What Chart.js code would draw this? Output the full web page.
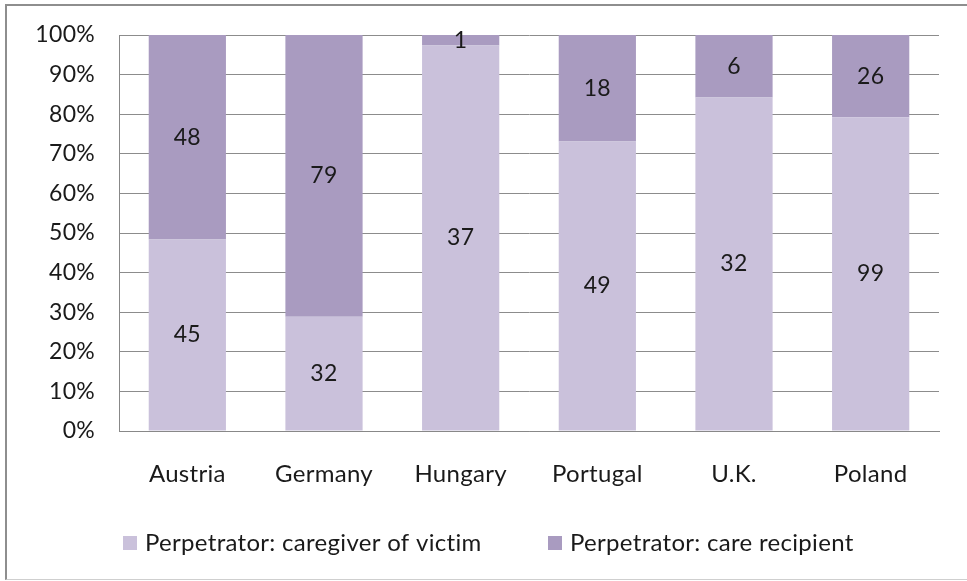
<!DOCTYPE html>
<html>
<head>
<meta charset="utf-8">
<script src="https://cdn.jsdelivr.net/npm/chart.js@4.4.1/dist/chart.umd.min.js"></script>
<style>
  html, body { margin: 0; padding: 0; background: #fff; overflow: hidden; }
  #wrap { position: relative; width: 967px; height: 581px; }
  #frame {
    position: absolute; left: 5px; top: 4px; right: -10px; bottom: 1px;
    border-left: 2px solid #8e8e8e; border-top: 2px solid #8e8e8e;
    border-bottom: 1px solid #cfcfcf; pointer-events: none;
  }
  canvas { position: absolute; left: 0; top: 0; }
</style>
</head>
<body>
<div id="wrap">
  <canvas id="chart" width="967" height="581"></canvas>
  <div id="frame"></div>
</div>
<script>
// Données (nombres de cas par pays)
const countries = ['Austria', 'Germany', 'Hungary', 'Portugal', 'U.K.', 'Poland'];
const caregiverCounts = [45, 32, 37, 49, 32, 99];
const recipientCounts = [48, 79, 1, 18, 6, 26];
const seriesNames = ['Perpetrator: caregiver of victim', 'Perpetrator: care recipient'];
const yTicks = [0, 10, 20, 30, 40, 50, 60, 70, 80, 90, 100];

const colors = ['#cac1db', '#a99bc0'];
const fontFamily = 'Lato, "Open Sans", sans-serif';
const textColor = '#1a1a1a';
const spacing = '0.3px';

// Parts en pourcentage (100% empilé)
const totals = caregiverCounts.map((v, i) => v + recipientCounts[i]);
const caregiverPct = caregiverCounts.map((v, i) => v / totals[i] * 100);
const recipientPct = recipientCounts.map((v, i) => v / totals[i] * 100);

// Léger espacement des lettres
const letterSpacing = {
    id: 'letterSpacing',
    beforeInit(chart) { chart.ctx.letterSpacing = spacing; },
    beforeLayout(chart) { chart.ctx.letterSpacing = spacing; },
    beforeDraw(chart) { chart.ctx.letterSpacing = spacing; }
};

// Étiquettes de valeurs au centre de chaque segment
const segmentLabels = {
    id: 'segmentLabels',
    afterDatasetsDraw(chart) {
        const ctx = chart.ctx;
        const counts = [caregiverCounts, recipientCounts];
        ctx.save();
        ctx.font = '23px ' + fontFamily;
        ctx.fillStyle = textColor;
        ctx.textAlign = 'center';
        ctx.textBaseline = 'middle';
        chart.data.datasets.forEach((ds, di) => {
            chart.getDatasetMeta(di).data.forEach((bar, i) => {
                const p = bar.getProps(['x', 'y', 'base'], true);
                ctx.fillText(String(counts[di][i]), p.x, (p.y + p.base) / 2);
            });
        });
        ctx.restore();
    }
};

// Légende dessinée à la main (espacement type Excel)
const customLegend = {
    id: 'customLegend',
    afterDraw(chart) {
        const ctx = chart.ctx;
        const xs = [123, 548];
        const y = 543;
        ctx.save();
        ctx.font = '24px ' + fontFamily;
        ctx.textBaseline = 'middle';
        ctx.textAlign = 'left';
        seriesNames.forEach((name, i) => {
            ctx.fillStyle = colors[i];
            ctx.fillRect(xs[i], y - 7, 14, 14);
            ctx.fillStyle = textColor;
            ctx.fillText(name, xs[i] + 22, y);
        });
        ctx.restore();
    }
};

const chartConfig = {
    type: 'bar',
    data: {
        labels: countries,
        datasets: [
            { label: seriesNames[0], data: caregiverPct, backgroundColor: colors[0], borderWidth: 0 },
            { label: seriesNames[1], data: recipientPct, backgroundColor: colors[1], borderWidth: 0 }
        ]
    },
    options: {
        responsive: false,
        animation: false,
        layout: { padding: { left: 0, top: 35, right: 28, bottom: 0 } },
        datasets: { bar: { barPercentage: 0.565, categoryPercentage: 1 } },
        scales: {
            x: {
                stacked: true,
                grid: { display: false, drawTicks: false },
                border: { display: true, color: '#888', width: 1 },
                ticks: { padding: 29, color: textColor, font: { family: fontFamily, size: 24 } },
                afterFit(scale) { scale.height = 150; scale.paddingLeft = 0; scale.paddingRight = 0; }
            },
            y: {
                stacked: true,
                min: 0,
                max: 100,
                afterBuildTicks(scale) { scale.ticks = yTicks.map(v => ({ value: v })); },
                grid: { color: '#8c8c8c', lineWidth: 1, drawTicks: false },
                border: { display: true, color: '#888', width: 1 },
                ticks: {
                    padding: 24,
                    color: textColor,
                    font: { family: fontFamily, size: 23 },
                    callback: (v) => v + '%'
                },
                afterFit(scale) { scale.width = 119; scale.paddingTop = 0; scale.paddingBottom = 0; }
            }
        },
        plugins: {
            legend: { display: false },
            tooltip: { enabled: false }
        }
    },
    plugins: [letterSpacing, segmentLabels, customLegend]
};

document.addEventListener('DOMContentLoaded', function () {
    new Chart(document.getElementById('chart'), chartConfig);
});
</script>
</body>
</html>
